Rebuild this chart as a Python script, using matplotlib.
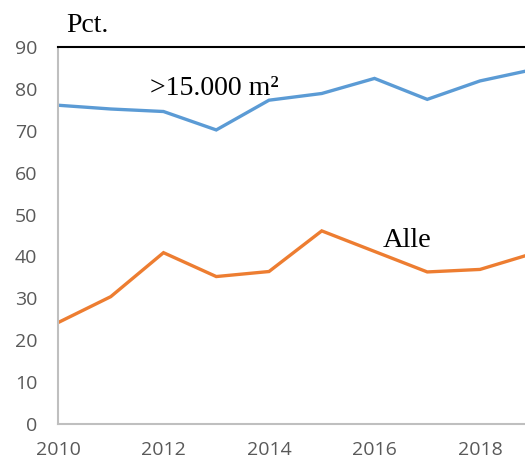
import numpy as np
import matplotlib.pyplot as plt

# --- data ---
years = [2010, 2011, 2012, 2013, 2014, 2015, 2016, 2017, 2018, 2019]
large_stores = [76.1, 75.2, 74.6, 70.2, 77.3, 78.9, 82.5, 77.5, 81.9, 84.6]   # >15.000 m2
all_stores = [24.2, 30.4, 40.9, 35.2, 36.4, 46.1, 41.2, 36.3, 36.9, 40.7]     # Alle

y_ticks = [0, 10, 20, 30, 40, 50, 60, 70, 80, 90]
x_ticks = [2010, 2012, 2014, 2016, 2018]

fig = plt.figure(figsize=(5.25, 4.63), dpi=100)
# axes run past the right edge of the figure, like the cropped original
ax = fig.add_axes([58 / 525, 39 / 463, 474.75 / 525, 377 / 463])

ax.plot(years, large_stores, color="#5B9BD5", linewidth=2.4, solid_joinstyle="miter")
ax.plot(years, all_stores, color="#ED7D31", linewidth=2.4, solid_joinstyle="miter")

ax.set_xlim(2010, 2019)
ax.set_ylim(0, 90)
ax.set_yticks(y_ticks)
ax.set_xticks(x_ticks)

tick_font = ["Open Sans", "DejaVu Sans"]
for lbl in ax.get_yticklabels():
    lbl.set_family(tick_font)
    lbl.set_fontsize(14)
for lbl in ax.get_xticklabels():
    lbl.set_family(tick_font)
    lbl.set_fontsize(14)
ax.tick_params(axis="both", length=0, colors="#595959")
ax.tick_params(axis="y", pad=15)
ax.tick_params(axis="x", pad=12)

for side in ["left", "bottom"]:
    ax.spines[side].set_color("#BFBFBF")
    ax.spines[side].set_linewidth(1.5)
ax.spines["top"].set_color("black")
ax.spines["top"].set_linewidth(1.5)
ax.spines["right"].set_visible(False)

serif = ["Liberation Serif", "DejaVu Serif"]
ax.text(2010.15, 93.6, "Pct.", family=serif, fontsize=20, clip_on=False)
ax.text(2011.74, 78.5, ">15.000 m\u00b2", family=serif, fontsize=20)
ax.text(2016.16, 42.2, "Alle", family=serif, fontsize=20.5)

fig.savefig("out.png", dpi=100)
